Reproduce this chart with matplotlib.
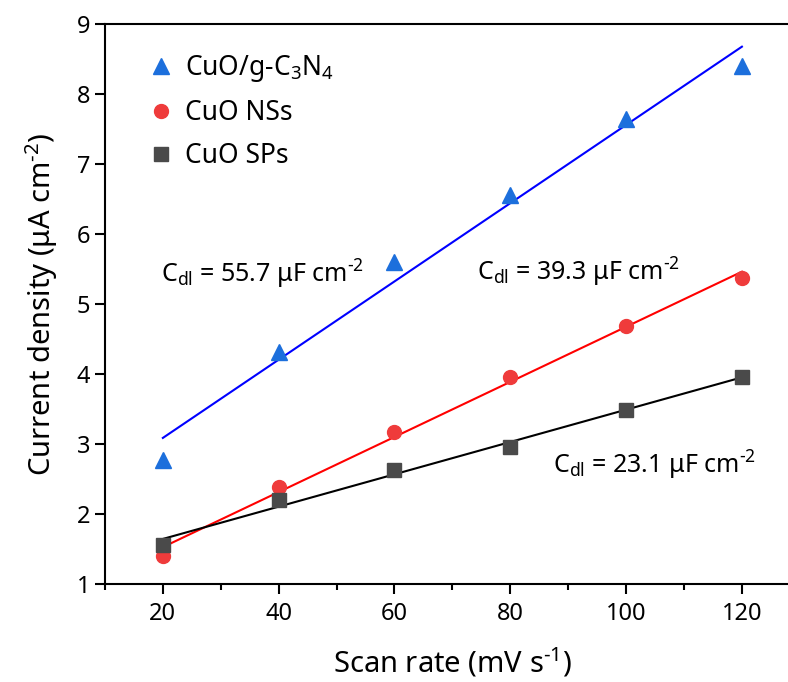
import numpy as np
import matplotlib
matplotlib.use('Agg')
import matplotlib.pyplot as plt
from matplotlib.ticker import MultipleLocator

plt.rcParams['font.family'] = ['Noto Sans', 'DejaVu Sans']
plt.rcParams['mathtext.fontset'] = 'custom'
plt.rcParams['mathtext.rm'] = 'Noto Sans'
plt.rcParams['mathtext.it'] = 'Noto Sans:italic'
plt.rcParams['mathtext.bf'] = 'Noto Sans:bold'

# Scan rates (mV/s) and current densities (uA/cm2)
scan_rate = [20, 40, 60, 80, 100, 120]
cuo_gcn = [2.77, 4.32, 5.60, 6.56, 7.65, 8.40]
cuo_nss = [1.40, 2.39, 3.18, 3.955, 4.69, 5.37]
cuo_sps = [1.56, 2.21, 2.63, 2.965, 3.49, 3.955]

labels = ['CuO/g-C$_3$N$_4$', 'CuO NSs', 'CuO SPs']
cdl_text = ['55.7', '39.3', '23.1']

fig = plt.figure(figsize=(7.88, 6.82), dpi=100)
ax = fig.add_axes([0.1332, 0.1432, 0.8818, 0.8216])

x = np.array(scan_rate)
series = [
    (cuo_gcn, '^', '#1c6fdc', 'blue', 11.5),
    (cuo_nss, 'o', '#ef3b3b', 'red', 10),
    (cuo_sps, 's', '#4a4a4a', 'black', 9.5),
]
for (y, mk, mc, lc, ms), lab in zip(series, labels):
    # linear fit through the points
    k, b = np.polyfit(x, y, 1)
    ax.plot(x, k * x + b, color=lc, lw=1.5, zorder=2)
    ax.plot(x, y, mk, color=mc, ms=ms, ls='none', label=lab, zorder=3)

# capacitance labels
unit = r' μF cm$^{\text{-2}}$'
ax.text(19.7, 5.42, r'C$_{\rm dl}$ = ' + cdl_text[0] + unit, fontsize=18, va='center')
ax.text(74.3, 5.46, r'C$_{\rm dl}$ = ' + cdl_text[1] + unit, fontsize=18, va='center')
ax.text(87.4, 2.70, r'C$_{\rm dl}$ = ' + cdl_text[2] + unit, fontsize=18, va='center')

ax.set_xlim(10, 130)
ax.set_ylim(1, 9)
ax.xaxis.set_major_locator(MultipleLocator(20))
ax.xaxis.set_minor_locator(MultipleLocator(10))
ax.yaxis.set_major_locator(MultipleLocator(1))
ax.tick_params(axis='both', which='major', direction='out', length=7, width=1.5, labelsize=17)
ax.tick_params(axis='x', which='minor', direction='out', length=4, width=1.5)
ax.tick_params(axis='x', which='major', pad=6)
ax.spines['right'].set_visible(False)
for s in ['left', 'bottom', 'top']:
    ax.spines[s].set_linewidth(1.5)

ax.set_xlabel(r'Scan rate (mV s$^{\text{-1}}$)', fontsize=21, labelpad=14)
ax.set_ylabel(r'Current density (μA cm$^{\text{-2}}$)', fontsize=21, labelpad=12)

ax.legend(loc='upper left', bbox_to_anchor=(0.024, 0.99), frameon=False, fontsize=19,
          handletextpad=0.3, labelspacing=0.57, handlelength=1.2)

fig.savefig('out.png', dpi=100)
